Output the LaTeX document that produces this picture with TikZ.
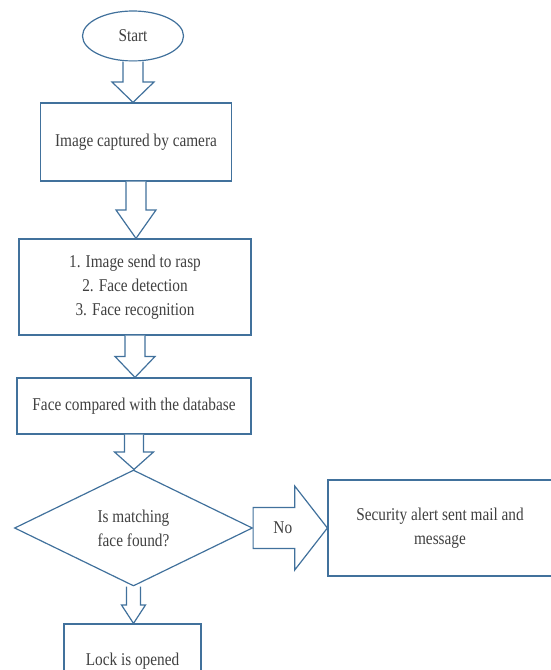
\documentclass[tikz,border=0pt]{standalone}
\usepackage{fontspec}
\setmainfont{Liberation Serif}[FakeStretch=0.85]
\usetikzlibrary{shapes.geometric,calc}

\definecolor{boxline}{RGB}{65,113,156}
\definecolor{boxtext}{RGB}{64,64,64}

\tikzset{
  every node/.style={text=boxtext, font=\fontsize{18}{24}\selectfont, align=center},
  terminal/.style={draw=boxline, line width=1.2pt, ellipse, inner sep=0pt, minimum width=101pt, minimum height=50pt},
  process/.style={draw=boxline, line width=1.2pt, rectangle, inner sep=0pt},
  decision/.style={draw=boxline, line width=1.2pt, diamond, aspect=2, inner sep=0pt, minimum width=238pt, minimum height=116pt},
  blockarrow/.style={draw=boxline, line width=1.2pt, fill=white, line join=miter}
}

\newcommand{\blockdown}[4]{%
\draw[blockarrow] let \p1=(#1.south), \p2=(#2.north), \n1={(\y1+\y2)/2} in
  (\x1-#3 pt,\y1) -- (\x1-#3 pt,\n1) -- (\x1-#4 pt,\n1) -- (\x1,\y2)
  -- (\x1+#4 pt,\n1) -- (\x1+#3 pt,\n1) -- (\x1+#3 pt,\y1);
}

\begin{document}
\begin{tikzpicture}[x=1pt,y=-1pt]

\useasboundingbox (0,0) rectangle (551,670);

\node[terminal] (start) at (133,36) {Start};
\node[process, minimum width=191pt, minimum height=78pt] (capture) at (136,142) {Image captured by camera};
\node[process, minimum width=232pt, minimum height=96pt] (detect) at (135,287) {1. Image send to rasp\\2. Face detection\\3. Face recognition};
\node[process, minimum width=234pt, minimum height=56pt] (compare) at (134,406) {Face compared with the database};
\node[decision] (match) at (133.5,528) {Is matching\\face found?};
\node[process, minimum width=224pt, minimum height=96pt] (alert) at (440,528) {Security alert sent mail and\\message};
\node[process, minimum width=137pt, minimum height=74pt] (lock) at (132.5,661) {Lock is opened};

\blockdown{start}{capture}{10}{21}
\blockdown{capture}{detect}{10}{20}
\blockdown{detect}{compare}{10}{20}
\blockdown{compare}{match}{9.5}{19.5}
\blockdown{match}{lock}{7}{12}

\draw[blockarrow] let \p1=(match.east), \p2=(alert.west), \n1={\x1+0.56*(\x2-\x1)} in
  (\x1,\y1+20.5pt) -- (\n1,\y1+20.5pt) -- (\n1,\y1+42pt) -- (\x2,\y2)
  -- (\n1,\y1-42pt) -- (\n1,\y1-20.5pt) -- (\x1,\y1-20.5pt) -- cycle;
\node (no) at ($(match.east)!0.4!(alert.west)$) {No};

\end{tikzpicture}
\end{document}
